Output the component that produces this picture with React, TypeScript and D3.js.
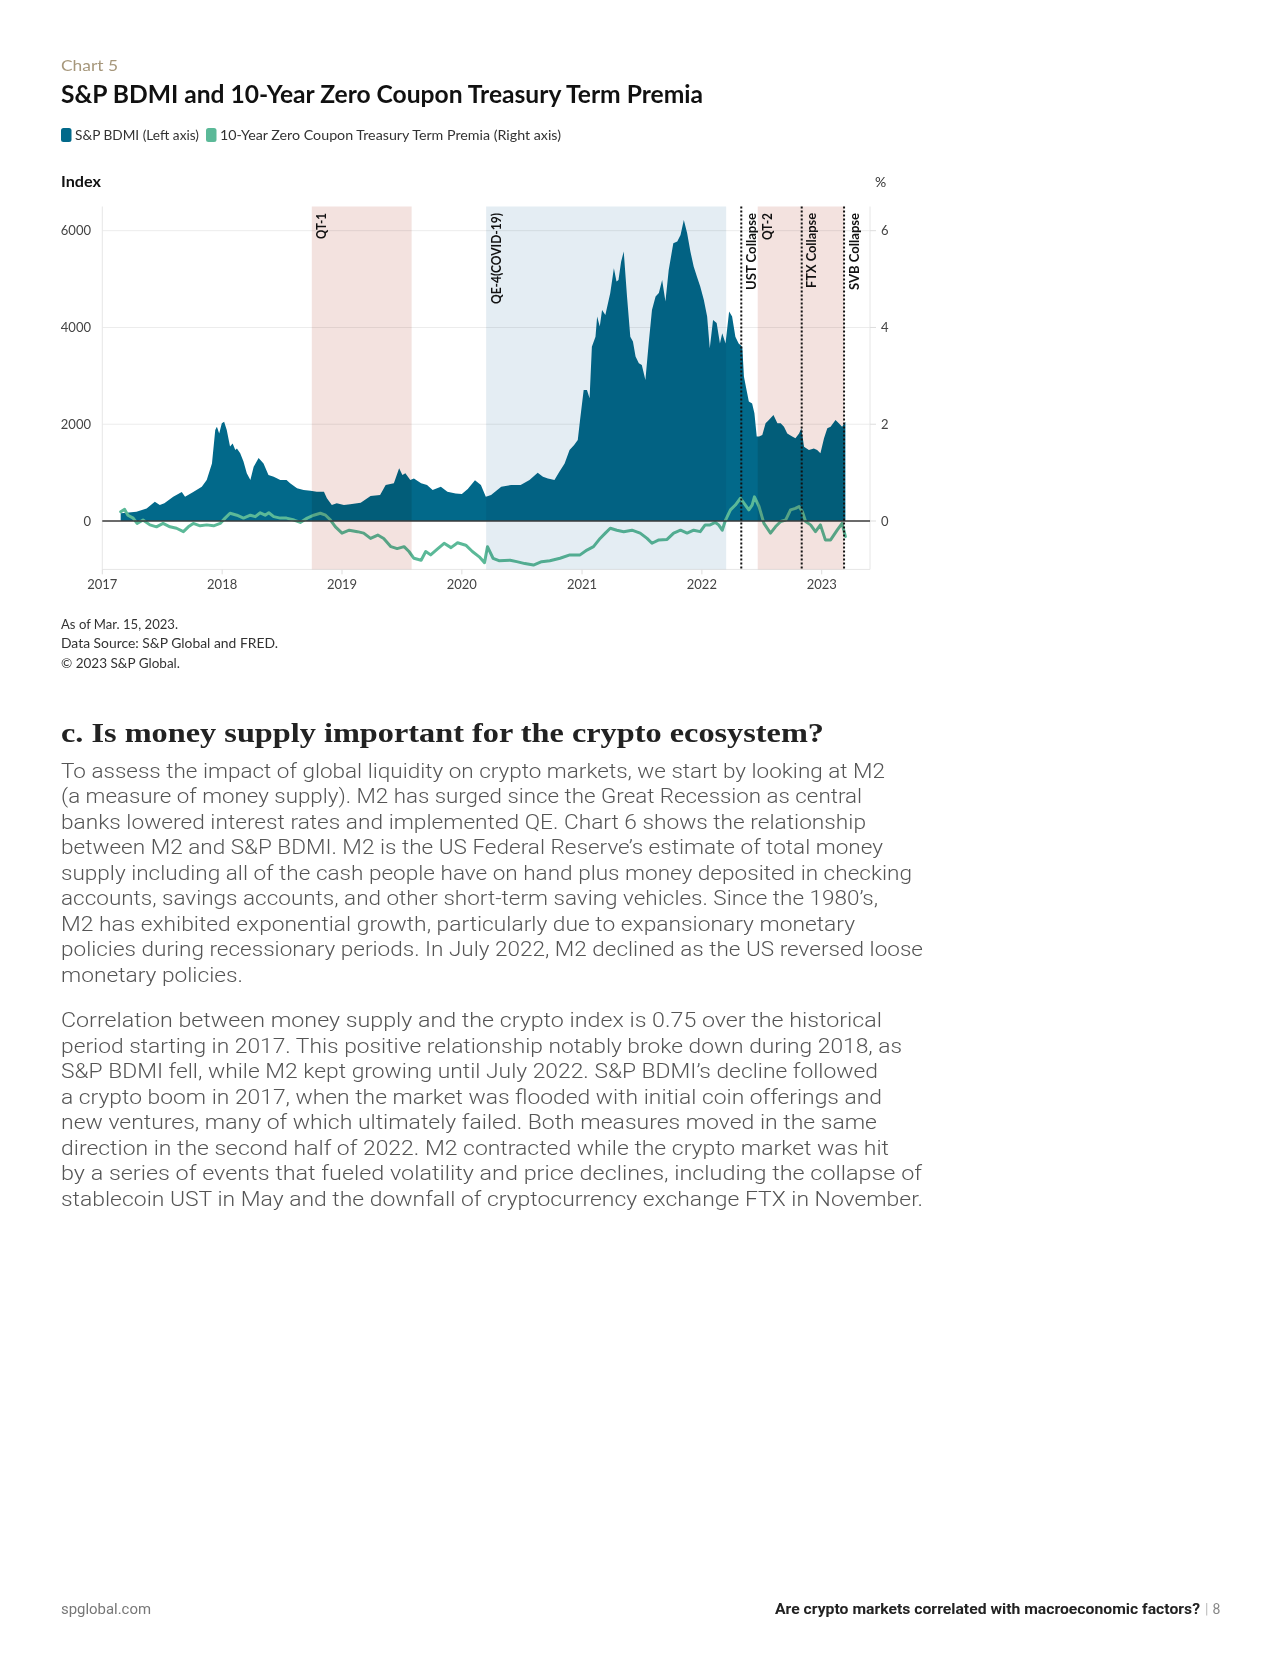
import React, { useEffect } from "react";
import * as d3 from "d3";

// ---------- DATA ----------
const bdmiDates = [
  "2017-02-26","2017-03-15","2017-04-15","2017-05-16","2017-06-10","2017-06-25","2017-07-09","2017-08-05","2017-08-31","2017-09-10",
  "2017-10-05","2017-10-31","2017-11-15","2017-12-01","2017-12-11","2017-12-16","2017-12-23","2017-12-31",
  "2018-01-07","2018-01-15","2018-01-25","2018-02-02","2018-02-10","2018-02-15","2018-02-25","2018-03-07","2018-03-17","2018-03-28",
  "2018-04-07","2018-04-22","2018-05-07","2018-05-22","2018-06-07","2018-06-27","2018-07-16","2018-07-27","2018-08-17","2018-09-06",
  "2018-09-27","2018-10-16","2018-11-07","2018-11-16","2018-12-01","2018-12-16",
  "2019-01-07","2019-01-26","2019-02-27","2019-03-29","2019-04-27","2019-05-14","2019-06-08","2019-06-24","2019-07-04","2019-07-13",
  "2019-07-28","2019-08-08","2019-08-30","2019-09-17","2019-10-04","2019-10-29","2019-11-18","2019-12-13",
  "2020-01-01","2020-01-19","2020-02-10","2020-02-28","2020-03-14","2020-03-30","2020-04-30","2020-05-30","2020-06-28","2020-07-25",
  "2020-08-19","2020-09-04","2020-09-19","2020-10-09","2020-10-24","2020-11-09","2020-11-24","2020-12-08","2020-12-19","2020-12-26",
  "2021-01-06","2021-01-16","2021-01-24","2021-01-31","2021-02-11","2021-02-16","2021-02-24","2021-03-03","2021-03-13","2021-03-28",
  "2021-04-08","2021-04-16","2021-04-22","2021-04-30","2021-05-08","2021-05-18","2021-05-28","2021-06-05","2021-06-13","2021-06-23",
  "2021-07-02","2021-07-13","2021-07-23","2021-08-02","2021-08-13","2021-08-23","2021-09-02","2021-09-12","2021-09-22","2021-10-06",
  "2021-10-18","2021-10-28","2021-11-07","2021-11-17","2021-11-27","2021-12-07","2021-12-17","2021-12-27",
  "2022-01-07","2022-01-17","2022-01-25","2022-02-04","2022-02-15","2022-02-25","2022-03-04","2022-03-14","2022-03-25","2022-04-03",
  "2022-04-13","2022-04-23","2022-05-04","2022-05-09","2022-05-17","2022-05-24","2022-06-03","2022-06-10","2022-06-17","2022-06-24",
  "2022-07-04","2022-07-14","2022-07-24","2022-08-07","2022-08-19","2022-08-29","2022-09-08","2022-09-18","2022-10-03","2022-10-13",
  "2022-10-24","2022-10-31","2022-11-08","2022-11-23","2022-12-08","2022-12-18","2022-12-28",
  "2023-01-08","2023-01-18","2023-01-28","2023-02-12","2023-02-22","2023-03-04","2023-03-14",
];
const bdmiValues = [
  160,170,190,260,400,330,365,500,600,500,
  600,710,850,1190,1880,1950,1810,2020,
  2050,1880,1540,1600,1470,1500,1400,1230,985,850,
  1120,1300,1190,950,915,850,850,780,675,640,
  625,605,605,470,330,365,
  330,345,380,515,540,745,780,1090,950,985,
  850,880,780,745,640,710,605,570,
  560,660,845,745,500,540,710,745,745,850,
  1000,915,880,850,1020,1190,1470,1570,1675,2090,
  2710,2710,2535,3600,3810,4225,4020,4360,4260,4710,
  5225,4950,4980,5360,5570,4640,3810,3710,3400,3260,
  3225,2915,3670,4360,4640,4710,4980,4535,5190,5740,
  5775,5910,6220,5950,5570,5260,5050,4845,
  4570,4225,3570,4155,4090,3670,3880,3670,4330,4225,
  3810,3670,3600,2985,2710,2470,2430,2225,1745,1745,
  1780,2020,2090,2190,2020,2020,1950,1810,1745,1710,
  1810,1915,1535,1470,1500,1470,1400,
  1710,1915,1950,2090,2020,1950,2050,
];

const premiaDates = [
  "2017-02-26","2017-03-10","2017-03-20","2017-04-05","2017-04-17","2017-05-05","2017-05-26","2017-06-15","2017-07-05","2017-07-26",
  "2017-08-15","2017-09-05","2017-09-20","2017-10-05","2017-10-26","2017-11-15","2017-12-06","2017-12-26",
  "2018-01-10","2018-01-25","2018-02-15","2018-03-07","2018-03-28","2018-04-12","2018-04-27","2018-05-12","2018-05-23","2018-06-07",
  "2018-06-27","2018-07-16","2018-08-08","2018-08-27","2018-09-17","2018-10-07","2018-10-27","2018-11-12","2018-11-27","2018-12-12",
  "2019-01-01","2019-01-23","2019-02-17","2019-03-08","2019-03-29","2019-04-20","2019-05-08","2019-05-30","2019-06-18","2019-07-09",
  "2019-07-24","2019-08-08","2019-08-30","2019-09-13","2019-09-28","2019-10-20","2019-11-08","2019-11-29","2019-12-19",
  "2020-01-13","2020-02-02","2020-02-23","2020-03-10","2020-03-19","2020-04-05","2020-04-23","2020-05-27","2020-06-16","2020-07-11",
  "2020-08-06","2020-08-31","2020-09-25","2020-10-26","2020-11-25","2020-12-26",
  "2021-01-16","2021-02-05","2021-02-25","2021-03-13","2021-03-28","2021-04-17","2021-05-08","2021-06-02","2021-06-27","2021-07-18",
  "2021-08-02","2021-08-23","2021-09-17","2021-10-07","2021-10-28","2021-11-17","2021-12-07","2021-12-27",
  "2022-01-11","2022-01-26","2022-02-11","2022-02-21","2022-03-04","2022-03-14","2022-03-29","2022-04-13","2022-04-28","2022-05-09",
  "2022-05-24","2022-06-03","2022-06-10","2022-06-24","2022-07-09","2022-07-29","2022-08-13","2022-08-29","2022-09-13","2022-09-28",
  "2022-10-13","2022-10-24","2022-11-03","2022-11-13","2022-11-28","2022-12-13","2022-12-28",
  "2023-01-12","2023-01-28","2023-02-17","2023-03-04","2023-03-14",
];
const premiaValues = [
  0.19,0.24,0.12,0.06,-0.05,0.02,-0.08,-0.12,-0.05,-0.12,
  -0.15,-0.22,-0.12,-0.05,-0.1,-0.08,-0.1,-0.05,
  0.06,0.16,0.12,0.06,0.12,0.09,0.17,0.12,0.17,0.09,
  0.06,0.06,0.02,-0.03,0.06,0.12,0.16,0.12,0.02,-0.12,
  -0.25,-0.19,-0.22,-0.25,-0.36,-0.29,-0.36,-0.53,-0.57,-0.53,
  -0.63,-0.77,-0.81,-0.63,-0.7,-0.57,-0.46,-0.55,-0.45,
  -0.5,-0.63,-0.74,-0.86,-0.53,-0.77,-0.82,-0.81,-0.84,-0.88,
  -0.91,-0.84,-0.82,-0.77,-0.7,-0.7,
  -0.6,-0.53,-0.36,-0.25,-0.15,-0.19,-0.22,-0.19,-0.25,-0.36,
  -0.46,-0.39,-0.38,-0.25,-0.19,-0.25,-0.19,-0.22,
  -0.08,-0.08,-0.03,-0.08,-0.19,0.02,0.23,0.33,0.47,0.37,
  0.23,0.33,0.5,0.3,-0.05,-0.25,-0.12,-0.01,0.02,0.23,
  0.26,0.3,0.19,-0.01,-0.08,-0.22,-0.08,
  -0.39,-0.39,-0.19,-0.05,-0.32,
];

const regionNames = ["QT-1", "QE-4(COVID-19)", "QT-2"];
const regionStarts = ["2018-10-01", "2020-03-15", "2022-06-20"];
const regionEnds = ["2019-08-01", "2022-03-16", "2023-03-10"];
const regionKinds = ["qt", "qe", "qt"];

const eventNames = ["UST Collapse", "FTX Collapse", "SVB Collapse"];
const eventDates = ["2022-05-01", "2022-11-01", "2023-03-10"];

const leftTicks = [0, 2000, 4000, 6000];
const rightTicks = [0, 2, 4, 6];
const yearTicks = [2017, 2018, 2019, 2020, 2021, 2022, 2023];

const legendLabels = ["S&P BDMI (Left axis)", "10-Year Zero Coupon Treasury Term Premia (Right axis)"];
const noteLines = ["As of Mar. 15, 2023.", "Data Source: S&P Global and FRED.", "\u00A9 2023 S&P Global."];

const para1 = [
  "To assess the impact of global liquidity on crypto markets, we start by looking at M2",
  "(a measure of money supply). M2 has surged since the Great Recession as central",
  "banks lowered interest rates and implemented QE. Chart 6 shows the relationship",
  "between M2 and S&P BDMI. M2 is the US Federal Reserve\u2019s estimate of total money",
  "supply including all of the cash people have on hand plus money deposited in checking",
  "accounts, savings accounts, and other short-term saving vehicles. Since the 1980\u2019s,",
  "M2 has exhibited exponential growth, particularly due to expansionary monetary",
  "policies during recessionary periods. In July 2022, M2 declined as the US reversed loose",
  "monetary policies.",
];
const para2 = [
  "Correlation between money supply and the crypto index is 0.75 over the historical",
  "period starting in 2017. This positive relationship notably broke down during 2018, as",
  "S&P BDMI fell, while M2 kept growing until July 2022. S&P BDMI\u2019s decline followed",
  "a crypto boom in 2017, when the market was flooded with initial coin offerings and",
  "new ventures, many of which ultimately failed. Both measures moved in the same",
  "direction in the second half of 2022. M2 contracted while the crypto market was hit",
  "by a series of events that fueled volatility and price declines, including the collapse of",
  "stablecoin UST in May and the downfall of cryptocurrency exchange FTX in November.",
];

// ---------- LAYOUT ----------
const para1Widths = [824, 801, 805, 822, 851, 817, 794, 862, 182];
const para2Widths = [821, 841, 817, 821, 816, 828, 861, 862];
const noteWidths = [117, 217, 119];
const labelWidths: Record<string, number> = {
  "QT-1": 26, "QE-4(COVID-19)": 91, "QT-2": 27,
  "UST Collapse": 77, "FTX Collapse": 75, "SVB Collapse": 77,
};

const BLUE = "#02698a";
const GREEN = "#5bb998";
const SANS = "Lato, 'Open Sans', sans-serif";

const parse = d3.timeParse("%Y-%m-%d");

export default function App() {
  useEffect(() => {
    document.body.style.margin = "0";
  }, []);

  const left = 102.3, right = 870, top = 206.5, bottom = 569.4;
  const x = d3.scaleTime()
    .domain([new Date(2017, 0, 1), new Date(2023, 4, 28)])
    .range([left, right]);
  const yL = d3.scaleLinear().domain([-1000, 6500]).range([bottom, top]);
  const yR = d3.scaleLinear().domain([-1, 6.5]).range([bottom, top]);

  const bdmi = bdmiDates.map((d, i) => ({ date: parse(d) as Date, v: bdmiValues[i] }));
  const prem = premiaDates.map((d, i) => ({ date: parse(d) as Date, v: premiaValues[i] }));

  const areaGen = d3.area<{ date: Date; v: number }>()
    .x((d) => x(d.date))
    .y0(yL(0))
    .y1((d) => yL(d.v));
  const lineGen = d3.line<{ date: Date; v: number }>()
    .x((d) => x(d.date))
    .y((d) => yR(d.v));

  const labelY = 213;
  const labelOffset = 14.5;

  return (
    <svg
      width={1280}
      height={1676}
      style={{ position: "absolute", left: 0, top: 0, background: "#fff", fontFamily: SANS }}
    >
      <rect x={0} y={0} width={1280} height={1676} fill="#fff" />
      {/* header */}
      <text x={61} y={71} fontSize={15} fill="#a6977b" textLength={57} lengthAdjust="spacingAndGlyphs">Chart 5</text>
      <text x={61} y={103} fontSize={24} fontWeight={700} fill="#111" textLength={642} lengthAdjust="spacingAndGlyphs">
        S&amp;P BDMI and 10-Year Zero Coupon Treasury Term Premia
      </text>
      <rect x={61} y={128} width={10.5} height={14} rx={2.5} fill={BLUE} />
      <text x={75} y={139.5} fontSize={13.5} fill="#333" textLength={124} lengthAdjust="spacingAndGlyphs">{legendLabels[0]}</text>
      <rect x={206} y={128} width={10.5} height={14} rx={2.5} fill={GREEN} />
      <text x={220} y={139.5} fontSize={13.5} fill="#333" textLength={341} lengthAdjust="spacingAndGlyphs">{legendLabels[1]}</text>
      <text x={61} y={187} fontSize={14.5} fontWeight={700} fill="#111" textLength={40} lengthAdjust="spacingAndGlyphs">Index</text>
      <text x={875} y={187} fontSize={14} fill="#333">%</text>

      {/* gridlines */}
      {leftTicks.filter((t) => t !== 0).map((t) => (
        <line key={"g" + t} x1={left} x2={right} y1={yL(t)} y2={yL(t)} stroke="#ececec" strokeWidth={1} />
      ))}
      <line x1={left} x2={left} y1={top} y2={bottom} stroke="#e6e6e6" strokeWidth={1} />
      <line x1={right} x2={right} y1={top} y2={bottom} stroke="#e6e6e6" strokeWidth={1} />
      <line x1={left} x2={right} y1={bottom} y2={bottom} stroke="#e6e6e6" strokeWidth={1} />

      {/* data */}
      <path d={areaGen(bdmi) || ""} fill={BLUE} />
      <path d={lineGen(prem) || ""} fill="none" stroke={GREEN} strokeWidth={3} strokeLinejoin="round" strokeLinecap="round" />

      {/* shaded regions */}
      {regionNames.map((n, i) => {
        const x0 = x(parse(regionStarts[i]) as Date);
        const x1 = x(parse(regionEnds[i]) as Date);
        return (
          <rect
            key={"r" + n}
            x={x0}
            y={top}
            width={x1 - x0}
            height={bottom - top}
            fill={regionKinds[i] === "qt" ? "#f3e2df" : "#e4edf3"}
            style={{ mixBlendMode: "multiply" }}
          />
        );
      })}

      {/* zero line */}
      <line x1={left} x2={right} y1={yL(0)} y2={yL(0)} stroke="#3a3a3a" strokeWidth={1.4} />

      {/* event lines */}
      {eventNames.map((n, i) => {
        const xe = x(parse(eventDates[i]) as Date);
        return (
          <line key={"e" + n} x1={xe} x2={xe} y1={top} y2={bottom} stroke="#111" strokeWidth={2} strokeDasharray="2,2" />
        );
      })}

      {/* labels */}
      {regionNames.map((n, i) => {
        const lx = x(parse(regionStarts[i]) as Date) + labelOffset;
        return (
          <text key={"rl" + n} transform={`translate(${lx},${labelY}) rotate(-90)`} textAnchor="end"
            fontSize={12.5} fontWeight={700} fill="#111" textLength={labelWidths[n]} lengthAdjust="spacingAndGlyphs">{n}</text>
        );
      })}
      {eventNames.map((n, i) => {
        const lx = x(parse(eventDates[i]) as Date) + labelOffset;
        return (
          <text key={"el" + n} transform={`translate(${lx},${labelY}) rotate(-90)`} textAnchor="end"
            fontSize={12.5} fontWeight={700} fill="#111" textLength={labelWidths[n]} lengthAdjust="spacingAndGlyphs">{n}</text>
        );
      })}

      {/* axes */}
      {leftTicks.map((t) => (
        <text key={"lt" + t} x={91} y={yL(t) + 4.5} textAnchor="end" fontSize={13} fill="#444">{t}</text>
      ))}
      {rightTicks.map((t) => (
        <g key={"rt" + t}>
          <line x1={right} x2={right + 6} y1={yR(t)} y2={yR(t)} stroke="#ddd" />
          <text x={881} y={yR(t) + 4.5} fontSize={13} fill="#444">{t}</text>
        </g>
      ))}
      {yearTicks.map((yr) => {
        const xt = x(new Date(yr, 0, 1));
        return (
          <g key={"xt" + yr}>
            <line x1={xt} x2={xt} y1={bottom} y2={bottom + 5} stroke="#ddd" />
            <text x={xt} y={589} textAnchor="middle" fontSize={13} fill="#444">{yr}</text>
          </g>
        );
      })}

      {/* notes */}
      {noteLines.map((l, i) => (
        <text key={"n" + i} x={61} y={629 + i * 19.3} fontSize={13.5} fill="#333"
          textLength={noteWidths[i]} lengthAdjust="spacingAndGlyphs">{l}</text>
      ))}

      {/* heading */}
      <text x={61} y={742} fontSize={27} fontWeight={700} fill="#222" fontFamily="'Liberation Serif', 'DejaVu Serif', serif"
        textLength={763} lengthAdjust="spacingAndGlyphs">
        c. Is money supply important for the crypto ecosystem?
      </text>

      {/* paragraphs */}
      {para1.map((l, i) => (
        <text key={"p1" + i} x={61} y={777.5 + i * 25.5} fontSize={21} fontWeight={300} fill="#555"
          fontFamily="Roboto, sans-serif" textLength={para1Widths[i]} lengthAdjust="spacingAndGlyphs">{l}</text>
      ))}
      {para2.map((l, i) => (
        <text key={"p2" + i} x={61} y={1027 + i * 25.5} fontSize={21} fontWeight={300} fill="#555"
          fontFamily="Roboto, sans-serif" textLength={para2Widths[i]} lengthAdjust="spacingAndGlyphs">{l}</text>
      ))}

      {/* footer */}
      <text x={61} y={1614} fontSize={14} fill="#777" fontFamily="Roboto, sans-serif" textLength={90} lengthAdjust="spacingAndGlyphs">spglobal.com</text>
      <text x={775} y={1614} fontSize={14} fontWeight={700} fill="#222" fontFamily="Roboto, sans-serif" textLength={425} lengthAdjust="spacingAndGlyphs">
        Are crypto markets correlated with macroeconomic factors?
      </text>
      <text x={1205} y={1614} fontSize={14} fill="#bbb" fontFamily="Roboto, sans-serif">|</text>
      <text x={1212.5} y={1614} fontSize={14} fill="#888" fontFamily="Roboto, sans-serif">8</text>
    </svg>
  );
}
